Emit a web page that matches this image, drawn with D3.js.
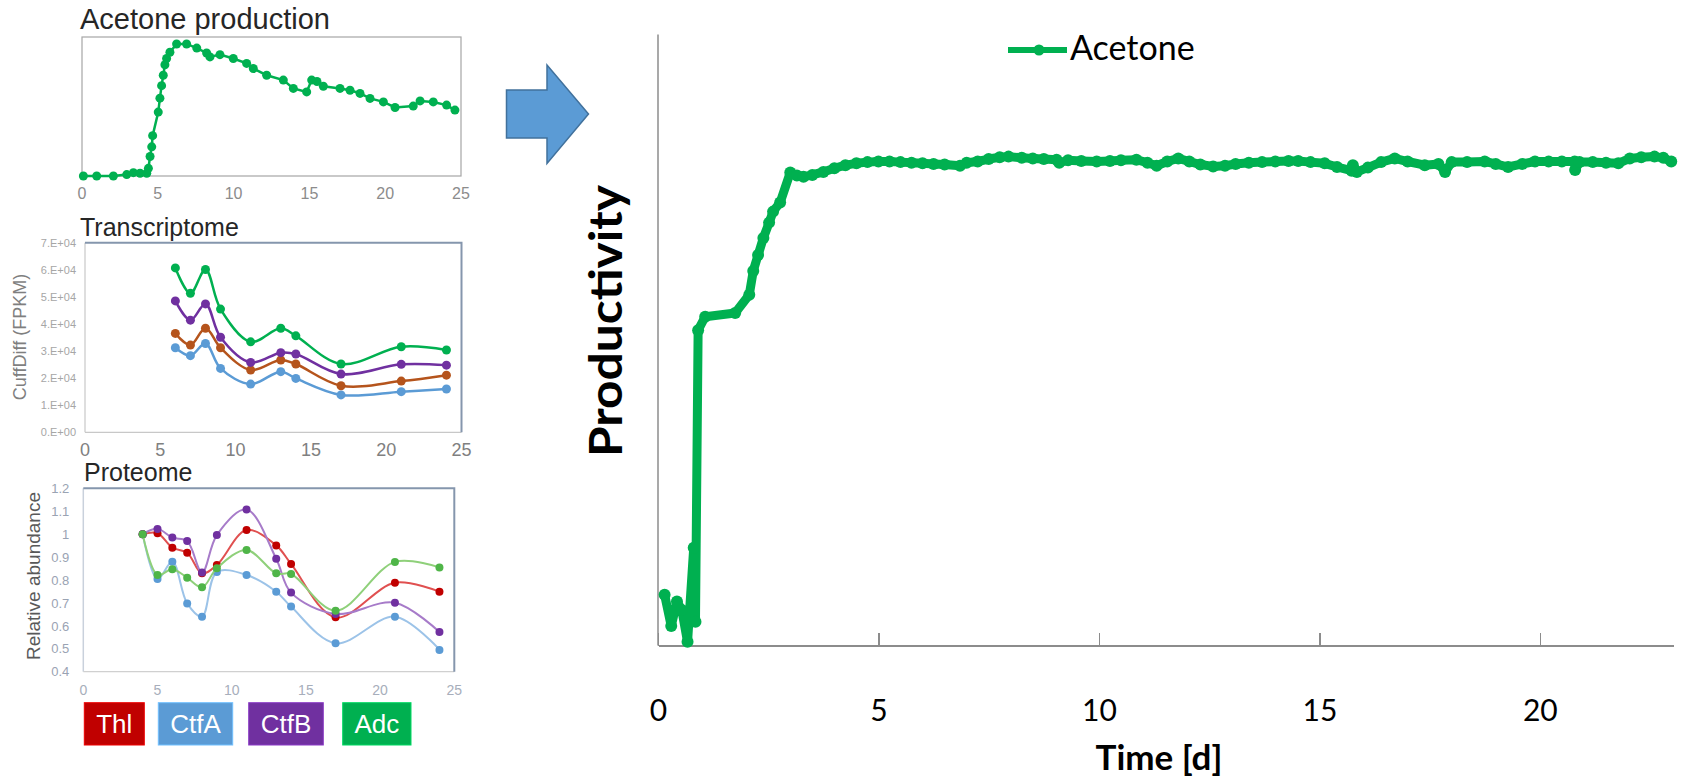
<!DOCTYPE html>
<html>
<head>
<meta charset="utf-8">
<script src="https://cdn.jsdelivr.net/npm/d3@7"></script>
<style>
  body { margin: 0; background: #fff; }
  svg { display: block; }
  .axis path, .axis line { shape-rendering: crispEdges; }
</style>
</head>
<body>
<div id="chart"></div>
<script>
// ---- data ----
// big chart: acetone productivity over time (arbitrary units 0-100)
const mainDays = [0.15, 0.30, 0.43, 0.54, 0.67, 0.81, 0.85, 0.91, 1.07, 1.75, 2.07, 2.16, 2.27, 2.39, 2.52,
  2.61, 2.77, 3.0, 3.15, 3.3, 3.5, 3.75, 4.0, 4.25, 4.5, 4.75, 5.0, 5.25, 5.5, 5.75, 6.0, 6.25, 6.5, 6.85,
  7.0, 7.25, 7.5, 7.75, 7.95, 8.25, 8.5, 8.75, 9.04, 9.1, 9.3, 9.6, 9.95, 10.25, 10.5, 10.85, 11.1, 11.31,
  11.55, 11.8, 12.05, 12.3, 12.59, 12.86, 13.1, 13.4, 13.7, 14.0, 14.3, 14.52, 14.8, 15.12, 15.4, 15.73,
  15.76, 15.85, 16.1, 16.4, 16.71, 17.0, 17.39, 17.7, 17.85, 18.0, 18.35, 18.75, 19.0, 19.28, 19.6, 19.89,
  20.2, 20.5, 20.79, 20.8, 20.9, 21.2, 21.5, 21.78, 22.04, 22.3, 22.6, 22.8, 22.98];
const mainValues = [8.3, 3.2, 7.2, 5.8, 0.6, 16.0, 3.9, 51.6, 53.8, 54.4, 57.4, 61.3, 63.9, 66.7, 69.2,
  71.0, 72.5, 77.4, 76.9, 76.7, 77.0, 77.5, 78.1, 78.6, 78.9, 79.1, 79.2, 79.2, 79.1, 79.0, 78.9, 78.8, 78.7, 78.5,
  79.0, 79.2, 79.6, 79.9, 80.0, 79.8, 79.7, 79.6, 79.5, 79.0, 79.4, 79.3, 79.2, 79.3, 79.4, 79.5, 79.0, 78.5,
  79.2, 79.7, 79.2, 78.7, 78.4, 78.5, 78.8, 79.0, 79.1, 79.2, 79.3, 79.3, 79.1, 78.9, 78.3, 77.7,
  78.6, 77.5, 78.2, 79.1, 79.7, 79.2, 78.6, 78.8, 77.5, 79.1, 79.1, 79.2, 78.8, 78.3, 78.8, 79.2,
  79.2, 79.2, 79.2, 77.8, 79.1, 79.1, 79.0, 78.9, 79.7, 79.9, 80.0, 79.8, 79.2];
const mainTicks = [0, 5, 10, 15, 20];

// small chart 1: acetone production
const prodDays = [0.09, 0.97, 2.07, 2.95, 3.39, 3.83, 4.27, 4.38, 4.49, 4.60, 4.66, 5.03, 5.14, 5.25, 5.36,
  5.47, 5.58, 5.80, 6.24, 6.90, 7.57, 8.22, 8.44, 9.10, 9.98, 10.86, 11.3, 12.18, 13.28, 13.94, 14.82, 15.15,
  15.5, 15.92, 17.02, 17.68, 18.34, 19.0, 19.88, 20.65, 21.85, 22.3, 23.17, 24.05, 24.6];
const prodValues = [0, 0, 0, 0.01, 0.024, 0.02, 0.02, 0.055, 0.14, 0.21, 0.29, 0.46, 0.56, 0.65, 0.725,
  0.80, 0.845, 0.89, 0.95, 0.95, 0.92, 0.885, 0.857, 0.873, 0.845, 0.81, 0.773, 0.725, 0.69, 0.63, 0.605, 0.69,
  0.68, 0.646, 0.63, 0.617, 0.594, 0.558, 0.533, 0.493, 0.503, 0.54, 0.533, 0.51, 0.474];

// small chart 2: transcriptome (FPKM)
const transDays = [6, 7, 8, 9, 11, 13, 14, 17, 21, 24];
const transAdc  = [60700, 51300, 60100, 45500, 33400, 38400, 35600, 25200, 31600, 30400];
const transCtfB = [48500, 41400, 47400, 35100, 25800, 29400, 28900, 21500, 25100, 24800];
const transThl  = [36500, 32200, 38400, 31200, 23000, 26700, 25200, 17200, 18900, 21100];
const transCtfA = [31200, 28300, 32800, 23600, 17800, 22400, 19900, 13800, 15000, 16000];
const transTicks = [0, 10000, 20000, 30000, 40000, 50000, 60000, 70000];

// small chart 3: proteome (relative abundance)
const protDays = [4, 5, 6, 7, 8, 9, 11, 13, 14, 17, 21, 24];
const protThl  = [1.0, 1.004, 0.941, 0.919, 0.829, 0.865, 1.018, 0.951, 0.870, 0.637, 0.788, 0.749];
const protCtfA = [1.0, 0.804, 0.880, 0.698, 0.640, 0.835, 0.822, 0.749, 0.684, 0.524, 0.640, 0.495];
const protCtfB = [1.0, 1.023, 0.985, 0.970, 0.833, 0.996, 1.108, 0.893, 0.745, 0.652, 0.701, 0.573];
const protAdc  = [1.0, 0.822, 0.847, 0.810, 0.768, 0.851, 0.931, 0.829, 0.826, 0.666, 0.879, 0.855];
const protTicks = [0.4, 0.5, 0.6, 0.7, 0.8, 0.9, 1.0, 1.1, 1.2];

const dayTicks = [0, 5, 10, 15, 20, 25];
const genes = ["Thl", "CtfA", "CtfB", "Adc"];
const geneColors = {Thl: "#C00000", CtfA: "#5B9BD5", CtfB: "#7030A0", Adc: "#00B050"};

const green = "#00B050";
const arial = "'Liberation Sans', Arial, sans-serif";
const calibri = "Lato, 'Open Sans', sans-serif";

const svg = d3.select("#chart").append("svg")
    .attr("width", 1684)
    .attr("height", 777);

// helper: zip two arrays into points
function zip(xs, ys) {
    return xs.map((x, i) => ({x: x, y: ys[i]}));
}

// ================= panel 1: acetone production =================
const p1 = svg.append("g");
const x1 = d3.scaleLinear().domain([0, 25]).range([82, 461]);
const y1 = d3.scaleLinear().domain([0, 1]).range([176, 37]);

p1.append("text")
    .attr("x", 80).attr("y", 29)
    .attr("font-family", arial).attr("font-size", 29)
    .attr("fill", "#262626")
    .text("Acetone production");

p1.append("rect")
    .attr("x", 82).attr("y", 37)
    .attr("width", 379).attr("height", 139)
    .attr("fill", "none").attr("stroke", "#a6a6a6").attr("stroke-width", 1.2);

p1.selectAll(".tick1").data(dayTicks).enter().append("text")
    .attr("x", d => x1(d)).attr("y", 199)
    .attr("text-anchor", "middle")
    .attr("font-family", arial).attr("font-size", 16)
    .attr("fill", "#8c8c8c")
    .text(d => d);

const prodData = zip(prodDays, prodValues);
p1.append("path")
    .datum(prodData)
    .attr("fill", "none").attr("stroke", green).attr("stroke-width", 2.5)
    .attr("d", d3.line().x(d => x1(d.x)).y(d => y1(d.y)));
p1.selectAll("circle").data(prodData).enter().append("circle")
    .attr("cx", d => x1(d.x)).attr("cy", d => y1(d.y))
    .attr("r", 4.5).attr("fill", green);

// ================= panel 2: transcriptome =================
const p2 = svg.append("g");
const x2 = d3.scaleLinear().domain([0, 25]).range([85, 461.5]);
const y2 = d3.scaleLinear().domain([0, 70000]).range([432.3, 242.7]);

p2.append("text")
    .attr("x", 80).attr("y", 236)
    .attr("font-family", arial).attr("font-size", 25)
    .attr("fill", "#262626")
    .text("Transcriptome");

// frame: light axes + darker top/right border
p2.append("line").attr("x1", 85).attr("x2", 85).attr("y1", 242.7).attr("y2", 432.3)
    .attr("stroke", "#c8c8c8").attr("stroke-width", 1.2);
p2.append("line").attr("x1", 85).attr("x2", 461.5).attr("y1", 432.3).attr("y2", 432.3)
    .attr("stroke", "#c8c8c8").attr("stroke-width", 1.2);
p2.append("path")
    .attr("d", "M85,242.7H461.5V432.3")
    .attr("fill", "none").attr("stroke", "#8596ad").attr("stroke-width", 2);

const y2Axis = p2.append("g")
    .attr("class", "axis")
    .attr("transform", "translate(85,0)")
    .call(d3.axisLeft(y2).tickValues(transTicks).tickSize(0).tickPadding(9)
        .tickFormat(d => d === 0 ? "0.E+00" : (d / 10000) + ".E+04"));
y2Axis.select(".domain").remove();
y2Axis.selectAll("text")
    .attr("font-family", arial).attr("font-size", 11).attr("fill", "#a6a6a6");

p2.selectAll(".tick2").data(dayTicks).enter().append("text")
    .attr("x", d => x2(d)).attr("y", 456)
    .attr("text-anchor", "middle")
    .attr("font-family", arial).attr("font-size", 18)
    .attr("fill", "#808080")
    .text(d => d);

p2.append("text")
    .attr("transform", "translate(26,337) rotate(-90)")
    .attr("text-anchor", "middle")
    .attr("font-family", arial).attr("font-size", 18)
    .attr("fill", "#7f7f7f")
    .text("CuffDiff (FPKM)");

const transSeries = [
    {color: "#5B9BD5", values: transCtfA},
    {color: "#B5541C", values: transThl},
    {color: "#7030A0", values: transCtfB},
    {color: green, values: transAdc}
];
const line2 = d3.line().curve(d3.curveCatmullRom).x(d => x2(d.x)).y(d => y2(d.y));
transSeries.forEach(s => {
    const pts = zip(transDays, s.values);
    const g = p2.append("g");
    g.append("path").datum(pts)
        .attr("fill", "none").attr("stroke", s.color).attr("stroke-width", 2.5)
        .attr("d", line2);
    g.selectAll("circle").data(pts).enter().append("circle")
        .attr("cx", d => x2(d.x)).attr("cy", d => y2(d.y))
        .attr("r", 4.5).attr("fill", s.color);
});

// ================= panel 3: proteome =================
const p3 = svg.append("g");
const x3 = d3.scaleLinear().domain([0, 25]).range([83.3, 454.3]);
const y3 = d3.scaleLinear().domain([0.4, 1.2]).range([671.7, 488.3]);

p3.append("text")
    .attr("x", 84).attr("y", 481)
    .attr("font-family", arial).attr("font-size", 25)
    .attr("fill", "#262626")
    .text("Proteome");

p3.append("line").attr("x1", 83.3).attr("x2", 83.3).attr("y1", 488.3).attr("y2", 671.7)
    .attr("stroke", "#c9d1dc").attr("stroke-width", 1.5);
p3.append("line").attr("x1", 83.3).attr("x2", 454.3).attr("y1", 671.7).attr("y2", 671.7)
    .attr("stroke", "#d0d0d0").attr("stroke-width", 1.2);
p3.append("path")
    .attr("d", "M83.3,488.3H454.3V671.7")
    .attr("fill", "none").attr("stroke", "#8596ad").attr("stroke-width", 2);

const y3Axis = p3.append("g")
    .attr("class", "axis")
    .attr("transform", "translate(83.3,0)")
    .call(d3.axisLeft(y3).tickValues(protTicks).tickSize(0).tickPadding(14)
        .tickFormat(d => d3.format(".1~f")(d)));
y3Axis.select(".domain").remove();
y3Axis.selectAll("text")
    .attr("font-family", arial).attr("font-size", 13).attr("fill", "#9aa3b3");

p3.selectAll(".tick3").data(dayTicks).enter().append("text")
    .attr("x", d => x3(d)).attr("y", 695)
    .attr("text-anchor", "middle")
    .attr("font-family", arial).attr("font-size", 14)
    .attr("fill", "#a7aebb")
    .text(d => d);

p3.append("text")
    .attr("transform", "translate(40,576) rotate(-90)")
    .attr("text-anchor", "middle")
    .attr("font-family", arial).attr("font-size", 19)
    .attr("fill", "#595959")
    .text("Relative abundance");

const protSeries = [
    {color: "#5B9BD5", line: "#9cc3e8", values: protCtfA},
    {color: "#C00000", line: "#e05050", values: protThl},
    {color: "#7030A0", line: "#a77bc9", values: protCtfB},
    {color: "#4fb548", line: "#8fd07a", values: protAdc}
];
const line3 = d3.line().curve(d3.curveCatmullRom).x(d => x3(d.x)).y(d => y3(d.y));
protSeries.forEach(s => {
    const pts = zip(protDays, s.values);
    const g = p3.append("g");
    g.append("path").datum(pts)
        .attr("fill", "none").attr("stroke", s.line).attr("stroke-width", 2)
        .attr("d", line3);
    g.selectAll("circle").data(pts).enter().append("circle")
        .attr("cx", d => x3(d.x)).attr("cy", d => y3(d.y))
        .attr("r", 4).attr("fill", s.color);
});

// gene legend boxes
const legendBoxes = [
    {x: 84.3, w: 60},
    {x: 158.3, w: 74.4},
    {x: 248.7, w: 74.6},
    {x: 342.7, w: 68.3}
];
genes.forEach((gname, i) => {
    const b = legendBoxes[i];
    svg.append("rect")
        .attr("x", b.x).attr("y", 702.7)
        .attr("width", b.w).attr("height", 42.3)
        .attr("fill", geneColors[gname])
        .attr("stroke", d3.color(geneColors[gname]).brighter(0.6)).attr("stroke-width", 1);
    svg.append("text")
        .attr("x", b.x + b.w / 2).attr("y", 733)
        .attr("text-anchor", "middle")
        .attr("font-family", arial).attr("font-size", 26)
        .attr("fill", "#fff")
        .text(gname);
});

// ================= arrow =================
svg.append("polygon")
    .attr("points", [[506.5, 90], [547, 90], [547, 65], [588.5, 114], [547, 163.5], [547, 138], [506.5, 138]].join(" "))
    .attr("fill", "#5B9BD5")
    .attr("stroke", "#41719C").attr("stroke-width", 1.5);

// ================= main chart =================
const pm = svg.append("g");
const xm = d3.scaleLinear().domain([0, 23.02]).range([658, 1673]);
const ym = d3.scaleLinear().domain([0, 100]).range([645.5, 34.4]);

// y axis line (no ticks)
pm.append("line")
    .attr("x1", xm(0)).attr("x2", xm(0))
    .attr("y1", ym(100)).attr("y2", ym(0))
    .attr("stroke", "#8c8c8c").attr("stroke-width", 1.5);

// x axis with inward ticks
const xmAxis = pm.append("g")
    .attr("class", "axis")
    .attr("transform", "translate(0," + ym(0) + ")")
    .call(d3.axisBottom(xm).tickValues(mainTicks).tickSizeInner(-13).tickSizeOuter(0).tickFormat(d3.format("d")));
xmAxis.select(".domain").attr("stroke", "#8c8c8c").attr("stroke-width", 1.5);
xmAxis.selectAll(".tick line").attr("stroke", "#8c8c8c").attr("stroke-width", 1.5);
xmAxis.selectAll("text")
    .attr("y", 54)
    .attr("font-family", calibri).attr("font-size", 30)
    .attr("fill", "#000");

pm.append("text")
    .attr("x", 1159).attr("y", 770)
    .attr("text-anchor", "middle")
    .attr("font-family", calibri).attr("font-weight", "bold").attr("font-size", 35)
    .attr("fill", "#000")
    .text("Time [d]");

pm.append("text")
    .attr("transform", "translate(622,321) rotate(-90)")
    .attr("text-anchor", "middle")
    .attr("font-family", calibri).attr("font-weight", "bold").attr("font-size", 45)
    .attr("textLength", 272).attr("lengthAdjust", "spacingAndGlyphs")
    .attr("fill", "#000")
    .text("Productivity");

const mainData = zip(mainDays, mainValues);
pm.append("path")
    .datum(mainData)
    .attr("fill", "none").attr("stroke", green).attr("stroke-width", 9)
    .attr("stroke-linejoin", "round").attr("stroke-linecap", "round")
    .attr("d", d3.line().x(d => xm(d.x)).y(d => ym(d.y)));
pm.selectAll("circle").data(mainData).enter().append("circle")
    .attr("cx", d => xm(d.x)).attr("cy", d => ym(d.y))
    .attr("r", 6).attr("fill", green);

// legend
const lg = pm.append("g");
lg.append("line")
    .attr("x1", 1008).attr("x2", 1067).attr("y1", 50).attr("y2", 50)
    .attr("stroke", green).attr("stroke-width", 6);
lg.append("circle").attr("cx", 1039).attr("cy", 50).attr("r", 5.5).attr("fill", green);
lg.append("text")
    .attr("x", 1070).attr("y", 59.5)
    .attr("font-family", calibri).attr("font-size", 34)
    .attr("fill", "#000")
    .text("Acetone");
</script>
</body>
</html>
